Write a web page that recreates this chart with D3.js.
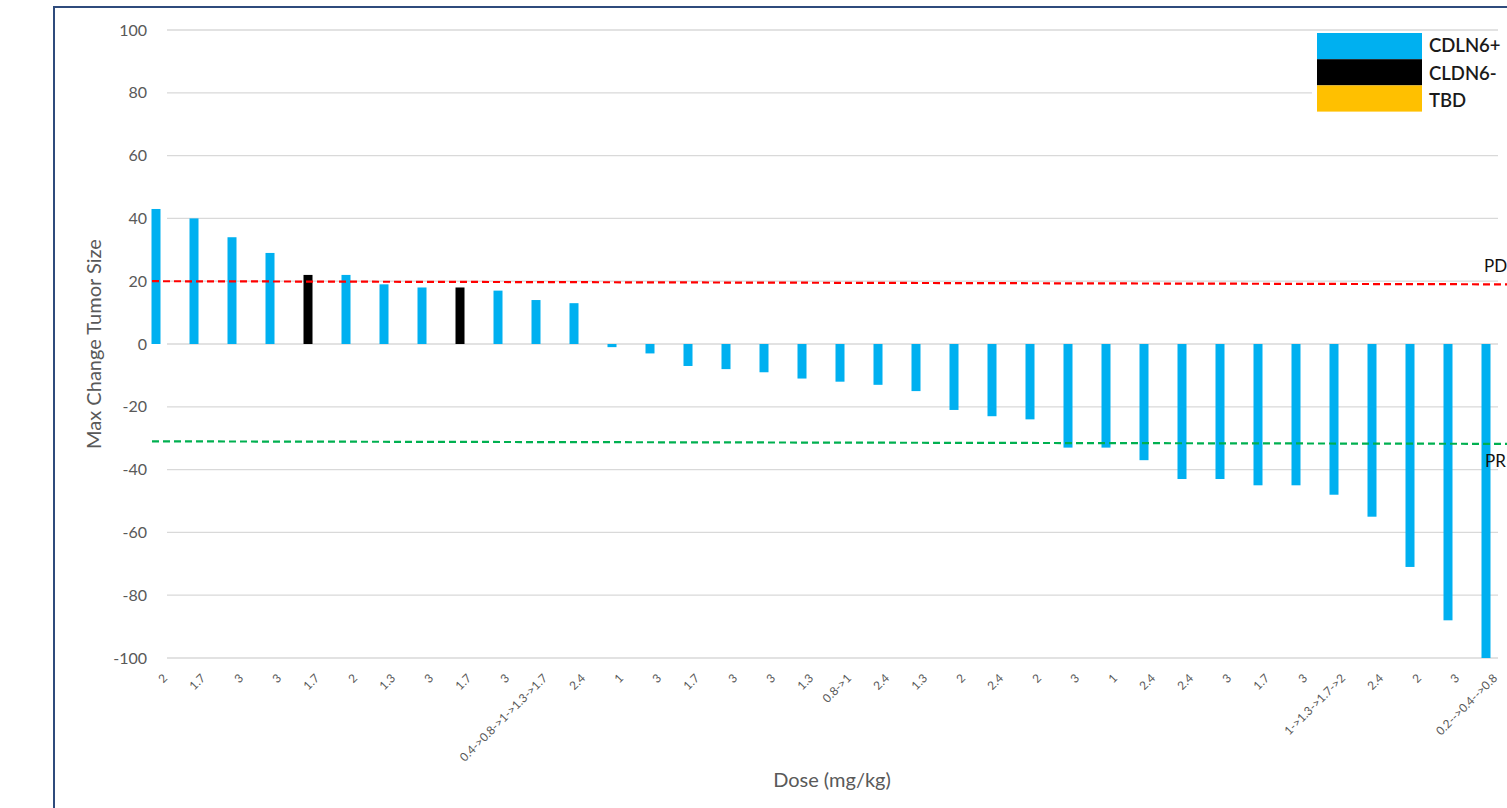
<!DOCTYPE html>
<html><head><meta charset="utf-8">
<script src="https://cdn.jsdelivr.net/npm/d3@7"></script>
<style>html,body{margin:0;padding:0;background:#fff;overflow:hidden}</style>
</head><body>
<svg id="chart" width="1507" height="808"></svg>
<script>
const doses = ["2","1.7","3","3","1.7","2","1.3","3","1.7","3","0.4->0.8->1->1.3->1.7","2.4","1","3","1.7","3","3","1.3","0.8->1","2.4","1.3","2","2.4","2","3","1","2.4","2.4","3","1.7","3","1->1.3->1.7->2","2.4","2","3","0.2-->0.4-->0.8"];
const changes = [43,40,34,29,22,22,19,18,18,17,14,13,-1,-3,-7,-8,-9,-11,-12,-13,-15,-21,-23,-24,-33,-33,-37,-43,-43,-45,-45,-48,-55,-71,-88,-100];
const groups = ["pos","pos","pos","pos","neg","pos","pos","pos","neg","pos","pos","pos","pos","pos","pos","pos","pos","pos","pos","pos","pos","pos","pos","pos","pos","pos","pos","pos","pos","pos","pos","pos","pos","pos","pos","pos"];
const legendKeys = ["pos","neg","tbd"];
const legendLabels = ["CDLN6+","CLDN6-","TBD"];
const legendColors = ["#00B0F0","#000000","#FFC000"];
const yTicks = [100,80,60,40,20,0,-20,-40,-60,-80,-100];
const pdLine = [20, 19];   // start/end values of PD threshold
const prLine = [-31, -31.8]; // start/end values of PR threshold

const svg = d3.select("#chart");
const font = "Lato, 'Open Sans', sans-serif";
const color = d3.scaleOrdinal().domain(legendKeys).range(legendColors);

const y = d3.scaleLinear().domain([-100, 100]).range([658, 30]);
const x = d3.scaleBand().domain(d3.range(changes.length)).range([132.5, 1509.5]).paddingInner(0.763).paddingOuter(0.5);
const gridX0 = 167, gridX1 = 1498;

// frame
svg.append("path").attr("d", "M54,808 L54,7 L1507,7")
  .attr("fill","none").attr("stroke","#2F4B7C").attr("stroke-width",2);

// gridlines
svg.append("g").selectAll("line").data(yTicks).join("line")
  .attr("x1", gridX0).attr("x2", gridX1)
  .attr("y1", d => y(d)).attr("y2", d => y(d))
  .attr("stroke", "#D9D9D9").attr("stroke-width", 1.3);

// y tick labels
const yAxis = d3.axisLeft(y).tickValues(yTicks).tickSize(0).tickPadding(0).tickFormat(d => String(d));
const ya = svg.append("g").attr("transform", "translate(147,0)").call(yAxis);
ya.select(".domain").remove();
ya.selectAll("text").attr("font-family", font).attr("font-size", 16).attr("fill", "#595959");

// bars
svg.append("g").selectAll("rect").data(changes).join("rect")
  .attr("x", (d,i) => x(i))
  .attr("width", x.bandwidth())
  .attr("y", d => y(Math.max(d,0)))
  .attr("height", d => Math.abs(y(d) - y(0)))
  .attr("fill", (d,i) => color(groups[i]));

// x tick labels
svg.append("g").selectAll("text").data(doses).join("text")
  .attr("transform", (d,i) => `translate(${x(i) + x.bandwidth()/2 + 12},679) rotate(-45)`)
  .attr("text-anchor", "end")
  .attr("font-family", font).attr("font-size", 11.8).attr("fill", "#595959")
  .text(d => d);

// axis titles
svg.append("text").attr("transform", "translate(101,344) rotate(-90)")
  .attr("text-anchor","middle").attr("font-family",font).attr("font-size",20).attr("fill","#595959")
  .text("Max Change Tumor Size");
svg.append("text").attr("x", 832).attr("y", 787)
  .attr("text-anchor","middle").attr("font-family",font).attr("font-size",20).attr("fill","#595959")
  .text("Dose (mg/kg)");

// threshold lines
svg.append("line").attr("x1",152).attr("x2",1507).attr("y1",y(pdLine[0])).attr("y2",y(pdLine[1]))
  .attr("stroke","#FF0000").attr("stroke-width",2.2).attr("stroke-dasharray","7,4");
svg.append("line").attr("x1",152).attr("x2",1507).attr("y1",y(prLine[0])).attr("y2",y(prLine[1]))
  .attr("stroke","#00B050").attr("stroke-width",2.2).attr("stroke-dasharray","7,4");
svg.append("text").attr("x",1484).attr("y",272).attr("font-family",font).attr("font-size",17).attr("fill","#111").text("PD");
svg.append("text").attr("x",1485).attr("y",467).attr("font-family",font).attr("font-size",17).attr("fill","#111").text("PR");

// legend
const lg = svg.append("g");
lg.append("rect").attr("x",1312).attr("y",33).attr("width",195).attr("height",80).attr("fill","#fff");
lg.selectAll("rect.sw").data(legendKeys).join("rect").attr("class","sw")
  .attr("x",1317).attr("y",(d,i)=>33 + i*26.2).attr("width",105).attr("height",26.2)
  .attr("fill", d => color(d));
lg.selectAll("text").data(legendLabels).join("text")
  .attr("x",1429).attr("y",(d,i)=>46 + i*27.5).attr("dy","0.35em")
  .attr("font-family",font).attr("font-size",18.5).attr("font-weight",600).attr("fill","#1a1a1a")
  .text(d => d);
</script>
</body></html>
